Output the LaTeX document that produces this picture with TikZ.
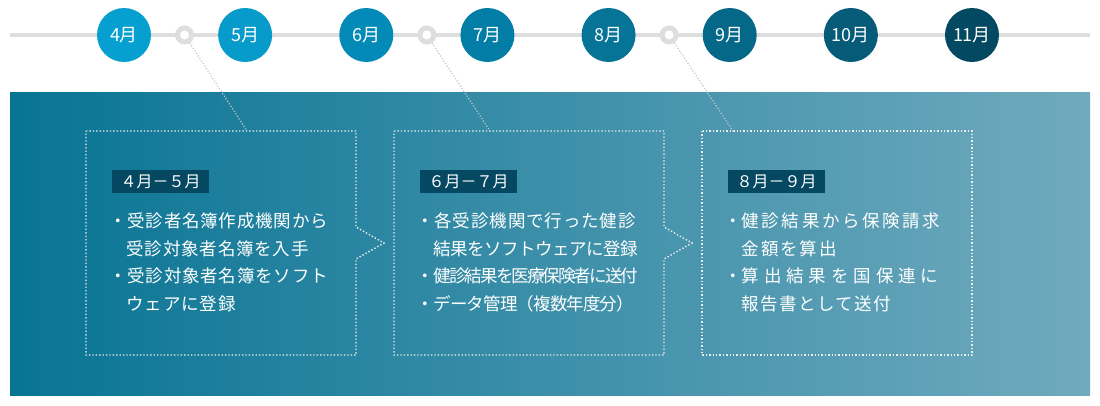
\documentclass[tikz,border=0pt]{standalone}
\usepackage{fontspec}
\setmainfont{Noto Sans CJK JP}
\usetikzlibrary{positioning,calc}
\definecolor{lineclr}{RGB}{221,222,222}
\definecolor{panelL}{RGB}{8,116,148}
\definecolor{panelR}{RGB}{112,170,190}
\definecolor{tagclr}{RGB}{4,72,98}
\definecolor{m4clr}{RGB}{6,160,208}
\definecolor{m5clr}{RGB}{6,155,202}
\definecolor{m6clr}{RGB}{3,138,182}
\definecolor{m7clr}{RGB}{2,125,166}
\definecolor{m8clr}{RGB}{6,116,150}
\definecolor{m9clr}{RGB}{5,104,136}
\definecolor{m10clr}{RGB}{5,91,120}
\definecolor{m11clr}{RGB}{4,73,98}
\newcommand{\trk}[1]{\addfontfeature{LetterSpace=#1}}
\tikzset{
    month/.style={circle,minimum size=54pt,inner sep=0pt,text=white,font=\fontsize{18}{18}\selectfont},
    ring/.style={circle,draw=lineclr,line width=5pt,fill=white,minimum size=14pt,inner sep=0pt},
    frame/.style={white!85!gray,line width=1.4pt,dash pattern=on 1.4pt off 2pt},
    link/.style={gray!45,line width=1.2pt,dash pattern=on 1.2pt off 1.8pt},
    tag/.style={fill=tagclr,text=white,minimum width=97pt,minimum height=23pt,inner sep=0pt,anchor=north west,font=\fontsize{16}{16}\selectfont},
    items/.style={text=white,anchor=north west,align=left,inner sep=0pt,font=\fontsize{17.5}{27.7}\selectfont},
}
\begin{document}
\begin{tikzpicture}[x=1pt,y=-1pt]
\useasboundingbox (0,0) rectangle (1100,405);
% timeline
\coordinate (tl) at (10,35);
\coordinate (tr) at (1090,35);
\draw[lineclr,line width=4.5pt] (tl) -- (tr);
\foreach \m [count=\i from 0] in {4,5,6,7,8,9,10,11}
    \node[month,fill=m\m clr] (m\m) at ({124+121.14*\i},35) {\m{}月};
\node[ring] (r1) at ($(m4)!.5!(m5)$) {};
\node[ring] (r2) at ($(m6)!.5!(m7)$) {};
\node[ring] (r3) at ($(m8)!.5!(m9)$) {};
% panel
\shade[left color=panelL,right color=panelR] (10,92) rectangle (1090,395);
\foreach \x in {86,394}
    \draw[frame] (\x,131) -- ++(270,0) -- ++(0,96) -- ++(28,16) -- ++(-28,16) -- ++(0,96) -- ++(-270,0) -- cycle;
\draw[frame] (702,131) rectangle (972,355);
\coordinate (t1) at (247,131);
\coordinate (t2) at (490,131);
\coordinate (t3) at (733,131);
\draw[link] (r1) -- (t1);
\draw[link] (r2) -- (t2);
\draw[link] (r3) -- (t3);
% phases
\node[tag] (g1) at (112,170) {４月－５月};
\node[tag] (g2) at (420,170) {６月－７月};
\node[tag] (g3) at (728,170) {８月－９月};
\node[items] (b1) at (109,212.5) {%
    {\trk{4.5}・受診者名簿作成機関から}\\
    {\trk{4.5}\phantom{・}受診対象者名簿を入手}\\
    {\trk{4.5}・受診対象者名簿をソフト}\\
    {\trk{4.5}\phantom{・}ウェアに登録}};
\node[items] (b2) at (416,212.5) {%
    {\trk{5}・各受診機関で行った健診}\\
    {\trk{5}\phantom{・}}{\trk{-3}結果をソフトウェアに登録}\\
    {\trk{5}・}{\trk{-11}健診結果を医療保険者に送付}\\
    {\trk{5}・}{\trk{-5}データ管理（複数年度分）}};
\node[items] (b3) at (724,212.5) {%
    {\trk{8}・}{\trk{15}健診結果から保険請求}\\
    {\trk{8}\phantom{・}}{\trk{11}金額を算出}\\
    {\trk{8}・}{\trk{28}算出結果を国保連に}\\
    {\trk{8}\phantom{・}}{\trk{8}報告書として送付}};
\end{tikzpicture}
\end{document}
